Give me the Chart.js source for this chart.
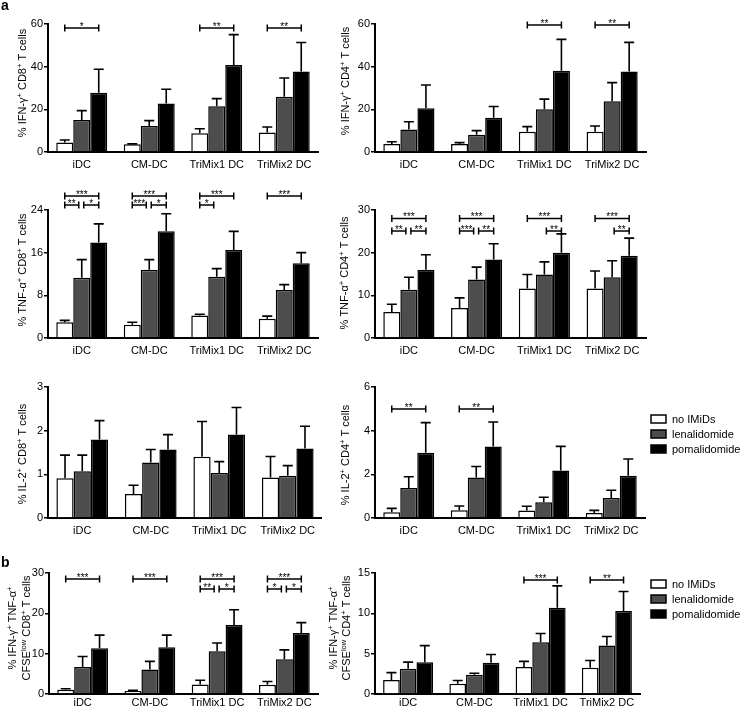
<!DOCTYPE html>
<html>
<head>
<meta charset="utf-8">
<script src="https://cdn.jsdelivr.net/npm/chart.js@4.4.1/dist/chart.umd.min.js"></script>
<style>
  html, body { margin: 0; padding: 0; background: #fff; width: 740px; height: 710px; overflow: hidden; }
  canvas { position: absolute; }
</style>
</head>
<body>
<script>
// Categories / series
const categories = ['iDC', 'CM-DC', 'TriMix1 DC', 'TriMix2 DC'];
const treatments = ['no IMiDs', 'lenalidomide', 'pomalidomide'];
const fills = ['#ffffff', '#4d4d4d', '#000000'];

// Means and SEM: one row per treatment (no IMiDs, lenalidomide, pomalidomide)
const ifnCd8Mean = [[4.4, 3.6, 8.8, 9.1], [15, 12.2, 21.4, 25.9], [27.8, 22.7, 40.8, 37.7]];
const ifnCd8Sem  = [[1.2, 0.2, 2.1, 2.6], [4.4, 2.5, 3.6, 8.8], [11, 6.7, 14.2, 13.6]];
const ifnCd4Mean = [[3.8, 3.8, 9.5, 9.5], [10.6, 8.1, 20, 23.8], [20.5, 16.1, 38.1, 37.7]];
const ifnCd4Sem  = [[1.0, 0.6, 2.4, 2.7], [3.6, 1.9, 4.8, 8.7], [10.9, 5.2, 14.7, 13.7]];
const tnfCd8Mean = [[2.95, 2.5, 4.2, 3.6], [11.3, 12.8, 11.5, 9.0], [17.9, 20, 16.5, 14]];
const tnfCd8Sem  = [[0.35, 0.45, 0.25, 0.5], [3.4, 1.9, 1.5, 1.0], [3.5, 3.3, 3.5, 2.0]];
const tnfCd4Mean = [[6.1, 7.05, 11.6, 11.6], [11.3, 13.7, 14.9, 14.25], [16, 18.4, 20, 19.3]];
const tnfCd4Sem  = [[1.8, 2.35, 3.3, 4.1], [2.95, 2.9, 2.95, 3.85], [3.5, 3.7, 4.4, 4.1]];
const il2Cd8Mean = [[0.91, 0.55, 1.4, 0.93], [1.07, 1.27, 1.03, 0.97], [1.8, 1.57, 1.91, 1.59]];
const il2Cd8Sem  = [[0.53, 0.2, 0.81, 0.48], [0.37, 0.3, 0.26, 0.23], [0.43, 0.34, 0.62, 0.51]];
const il2Cd4Mean = [[0.26, 0.35, 0.34, 0.23], [1.37, 1.86, 0.72, 0.92], [2.99, 3.28, 2.18, 1.93]];
const il2Cd4Sem  = [[0.18, 0.2, 0.2, 0.12], [0.52, 0.5, 0.23, 0.35], [1.38, 1.12, 1.1, 0.77]];
const cfseCd8Mean = [[1.05, 0.73, 2.35, 2.27], [6.7, 6.1, 10.6, 8.6], [11.35, 11.6, 17.1, 15.1]];
const cfseCd8Sem  = [[0.25, 0.17, 1.05, 0.83], [2.6, 2.0, 2.05, 2.35], [3.25, 3.0, 3.8, 2.6]];
const cfseCd4Mean = [[1.75, 1.26, 3.34, 3.26], [3.14, 2.4, 6.4, 6.0], [3.95, 3.87, 10.7, 10.3]];
const cfseCd4Sem  = [[0.9, 0.41, 0.7, 0.9], [0.81, 0.17, 1.1, 1.13], [2.05, 1.03, 2.7, 2.4]];

// Y tick labels
const ifnTicks = [0, 20, 40, 60];
const tnfCd8Ticks = [0, 8, 16, 24];
const tnfCd4Ticks = [0, 10, 20, 30];
const il2Cd8Ticks = [0, 1, 2, 3];
const il2Cd4Ticks = [0, 2, 4, 6];
const cfseCd8Ticks = [0, 10, 20, 30];
const cfseCd4Ticks = [0, 5, 10, 15];

// Significance: [category, from series, to series, stars, row]
const ifnCd8Sig = [[0, 0, 2, '*', 0], [2, 0, 2, '**', 0], [3, 0, 2, '**', 0]];
const ifnCd4Sig = [[2, 0, 2, '**', 0], [3, 0, 2, '**', 0]];
const tnfCd8Sig = [[0, 0, 2, '***', 0], [0, 0, 1, '**', 1], [0, 1, 2, '*', 1],
                   [1, 0, 2, '***', 0], [1, 0, 1, '***', 1], [1, 1, 2, '*', 1],
                   [2, 0, 2, '***', 0], [2, 0, 1, '*', 1], [3, 0, 2, '***', 0]];
const tnfCd4Sig = [[0, 0, 2, '***', 0], [0, 0, 1, '**', 1], [0, 1, 2, '**', 1],
                   [1, 0, 2, '***', 0], [1, 0, 1, '***', 1], [1, 1, 2, '**', 1],
                   [2, 0, 2, '***', 0], [2, 1, 2, '**', 1],
                   [3, 0, 2, '***', 0], [3, 1, 2, '**', 1]];
const il2Cd4Sig = [[0, 0, 2, '**', 0], [1, 0, 2, '**', 0]];
const cfseCd8Sig = [[0, 0, 2, '***', 0], [1, 0, 2, '***', 0],
                    [2, 0, 2, '***', 0], [2, 0, 1, '**', 1], [2, 1, 2, '*', 1],
                    [3, 0, 2, '***', 0], [3, 0, 1, '*', 1], [3, 1, 2, '*', 1]];
const cfseCd4Sig = [[2, 0, 2, '***', 0], [3, 0, 2, '**', 0]];

const FONT = '"Liberation Sans", Arial, Helvetica, sans-serif';
const YW = 30, XH = 18;

// "^+" or "^{low}" -> superscript runs
function parseRich(s) {
  const out = [];
  let buf = '';
  for (let i = 0; i < s.length; i++) {
    if (s[i] === '^') {
      if (buf) out.push([buf, false]);
      buf = '';
      if (s[i + 1] === '{') {
        const e = s.indexOf('}', i);
        out.push([s.slice(i + 2, e), true]);
        i = e;
      } else {
        out.push([s[i + 1], true]);
        i++;
      }
    } else buf += s[i];
  }
  if (buf) out.push([buf, false]);
  return out;
}

function drawRich(ctx, str, x, y) {
  const runs = parseRich(str);
  const big = '11px ' + FONT, small = '7.5px ' + FONT;
  let w = 0;
  runs.forEach(r => { ctx.font = r[1] ? small : big; w += ctx.measureText(r[0]).width; });
  ctx.save();
  ctx.translate(x, y);
  ctx.rotate(-Math.PI / 2);
  ctx.textAlign = 'left';
  ctx.textBaseline = 'alphabetic';
  ctx.fillStyle = '#000';
  let px = -w / 2;
  runs.forEach(r => {
    ctx.font = r[1] ? small : big;
    ctx.fillText(r[0], px, r[1] ? -0.5 : 4);
    px += ctx.measureText(r[0]).width;
  });
  ctx.restore();
}

function makeDecor(p) {
  return {
    id: 'decor',
    afterDatasetsDraw(chart) {
      const ctx = chart.ctx, ys = chart.scales.y;
      ctx.save();
      ctx.strokeStyle = '#000';
      ctx.lineWidth = 1.6;
      // error bars (upper only)
      p.mean.forEach((series, i) => {
        const meta = chart.getDatasetMeta(i);
        series.forEach((v, j) => {
          const bar = meta.data[j];
          const top = ys.getPixelForValue(v + p.sem[i][j]);
          ctx.beginPath();
          ctx.moveTo(bar.x, bar.y);
          ctx.lineTo(bar.x, top);
          ctx.moveTo(bar.x - 5, top);
          ctx.lineTo(bar.x + 5, top);
          ctx.stroke();
        });
      });
      // significance brackets
      (p.sig || []).forEach(([c, a, b, label, row]) => {
        let x1 = chart.getDatasetMeta(a).data[c].x;
        let x2 = chart.getDatasetMeta(b).data[c].x;
        if (row > 0 && a === 1) x1 += 2;
        if (row > 0 && b === 1) x2 -= 3;
        const yy = chart.chartArea.top + p.sigY[row];
        ctx.lineWidth = 1.5;
        ctx.beginPath();
        ctx.moveTo(x1, yy); ctx.lineTo(x2, yy);
        ctx.moveTo(x1, yy - 3.5); ctx.lineTo(x1, yy + 3.5);
        ctx.moveTo(x2, yy - 3.5); ctx.lineTo(x2, yy + 3.5);
        ctx.stroke();
        ctx.fillStyle = '#000';
        ctx.font = '10px ' + FONT;
        ctx.textAlign = 'center';
        ctx.textBaseline = 'alphabetic';
        ctx.fillText(label, (x1 + x2) / 2, yy + 1.5);
      });
      ctx.restore();
    },
    afterDraw(chart) {
      const ctx = chart.ctx;
      // axis title
      if (Array.isArray(p.title)) {
        p.title.forEach((t, k) => drawRich(ctx, t, p.titleX[k] - p.cx, p.titleY - p.cy));
      } else {
        drawRich(ctx, p.title, p.titleX - p.cx, p.titleY - p.cy);
      }
      // panel letter
      if (p.letter) {
        ctx.save();
        ctx.fillStyle = '#000';
        ctx.font = 'bold 14px ' + FONT;
        ctx.textAlign = 'left';
        ctx.textBaseline = 'alphabetic';
        ctx.fillText(p.letter, 1 - p.cx, p.letterY - p.cy);
        ctx.restore();
      }
      // legend
      if (p.legendY) {
        ctx.save();
        treatments.forEach((t, i) => {
          const cy = p.legendY[i] - p.cy, lx = 651 - p.cx;
          ctx.fillStyle = fills[i];
          ctx.fillRect(lx, cy - 4, 15, 8);
          ctx.strokeStyle = '#000';
          ctx.lineWidth = 1.5;
          ctx.strokeRect(lx, cy - 4, 15, 8);
          ctx.fillStyle = '#000';
          ctx.font = '11px ' + FONT;
          ctx.textAlign = 'left';
          ctx.textBaseline = 'middle';
          ctx.fillText(t, lx + 21, cy + 0.5);
        });
        ctx.restore();
      }
    }
  };
}

function makePanel(p) {
  const cv = document.createElement('canvas');
  cv.width = p.cw;
  cv.height = p.ch;
  cv.style.left = p.cx + 'px';
  cv.style.top = p.cy + 'px';
  document.body.appendChild(cv);
  new Chart(cv, {
    type: 'bar',
    data: {
      labels: categories,
      datasets: treatments.map((t, i) => ({
        label: t,
        data: p.mean[i],
        backgroundColor: fills[i],
        borderColor: '#000',
        borderWidth: 1.5,
        categoryPercentage: 0.755,
        barPercentage: 1
      }))
    },
    options: {
      responsive: false,
      animation: false,
      events: [],
      layout: {
        padding: {
          left: p.l - p.cx - YW,
          top: p.t - p.cy,
          right: p.cx + p.cw - p.r,
          bottom: p.cy + p.ch - p.b - XH
        }
      },
      plugins: { legend: { display: false }, tooltip: { enabled: false } },
      scales: {
        x: {
          grid: { display: false, drawTicks: false },
          border: { display: true, color: '#000', width: 2 },
          ticks: { color: '#000', font: { size: 11, family: FONT }, padding: p.xPad || 6, maxRotation: 0, autoSkip: false },
          afterFit(s) { s.height = XH; }
        },
        y: {
          min: 0,
          max: p.ticks[p.ticks.length - 1],
          afterBuildTicks(s) { s.ticks = p.ticks.map(v => ({ value: v })); },
          grid: { drawOnChartArea: false, color: '#000', lineWidth: 1.5, tickLength: 4 },
          border: { display: true, color: '#000', width: 2 },
          ticks: { color: '#000', font: { size: 11, family: FONT }, padding: 1 },
          afterFit(s) { s.width = YW; }
        }
      }
    },
    plugins: [makeDecor(p)]
  });
}

// Panel layout (left column canvases 0..322, right column 322..740)
makePanel({ cx: 0, cy: 0, cw: 322, ch: 176, l: 48, t: 24, r: 318, b: 152,
  mean: ifnCd8Mean, sem: ifnCd8Sem, ticks: ifnTicks, sig: ifnCd8Sig, sigY: [4],
  title: '% IFN-γ^+ CD8^+ T cells', titleX: 22, titleY: 83, letter: 'a', letterY: 10 });
makePanel({ cx: 322, cy: 0, cw: 418, ch: 176, l: 375, t: 24, r: 646, b: 152,
  mean: ifnCd4Mean, sem: ifnCd4Sem, ticks: ifnTicks, sig: ifnCd4Sig, sigY: [1],
  title: '% IFN-γ^+ CD4^+ T cells', titleX: 345, titleY: 81 });
makePanel({ cx: 0, cy: 176, cw: 322, ch: 184, l: 48, t: 210, r: 318, b: 338,
  mean: tnfCd8Mean, sem: tnfCd8Sem, ticks: tnfCd8Ticks, sig: tnfCd8Sig, sigY: [-14, -5],
  title: '% TNF-α^+ CD8^+ T cells', titleX: 22, titleY: 270 });
makePanel({ cx: 322, cy: 176, cw: 418, ch: 184, l: 375, t: 210, r: 646, b: 338,
  mean: tnfCd4Mean, sem: tnfCd4Sem, ticks: tnfCd4Ticks, sig: tnfCd4Sig, sigY: [8.5, 21],
  title: '% TNF-α^+ CD4^+ T cells', titleX: 344, titleY: 273 });
makePanel({ cx: 0, cy: 360, cw: 322, ch: 180, l: 48, t: 387, r: 322, b: 518,
  mean: il2Cd8Mean, sem: il2Cd8Sem, ticks: il2Cd8Ticks, sig: [], sigY: [0],
  title: '% IL-2^+ CD8^+ T cells', titleX: 22, titleY: 454 });
makePanel({ cx: 322, cy: 360, cw: 418, ch: 180, l: 375, t: 387, r: 645, b: 518,
  mean: il2Cd4Mean, sem: il2Cd4Sem, ticks: il2Cd4Ticks, sig: il2Cd4Sig, sigY: [22],
  title: '% IL-2^+ CD4^+ T cells', titleX: 345, titleY: 455, legendY: [419, 434, 449] });
makePanel({ cx: 0, cy: 540, cw: 322, ch: 170, l: 49, t: 573, r: 318, b: 694, xPad: 2,
  mean: cfseCd8Mean, sem: cfseCd8Sem, ticks: cfseCd8Ticks, sig: cfseCd8Sig, sigY: [6, 16],
  title: ['% IFN-γ^+ TNF-α^+', 'CFSE^{low} CD8^+ T cells'], titleX: [12, 26], titleY: 628,
  letter: 'b', letterY: 567 });
makePanel({ cx: 322, cy: 540, cw: 418, ch: 170, l: 375, t: 573, r: 640, b: 694, xPad: 2,
  mean: cfseCd4Mean, sem: cfseCd4Sem, ticks: cfseCd4Ticks, sig: cfseCd4Sig, sigY: [7],
  title: ['% IFN-γ^+ TNF-α^+', 'CFSE^{low} CD4^+ T cells'], titleX: [333, 346], titleY: 628,
  legendY: [584, 599, 614] });
</script>
</body>
</html>
